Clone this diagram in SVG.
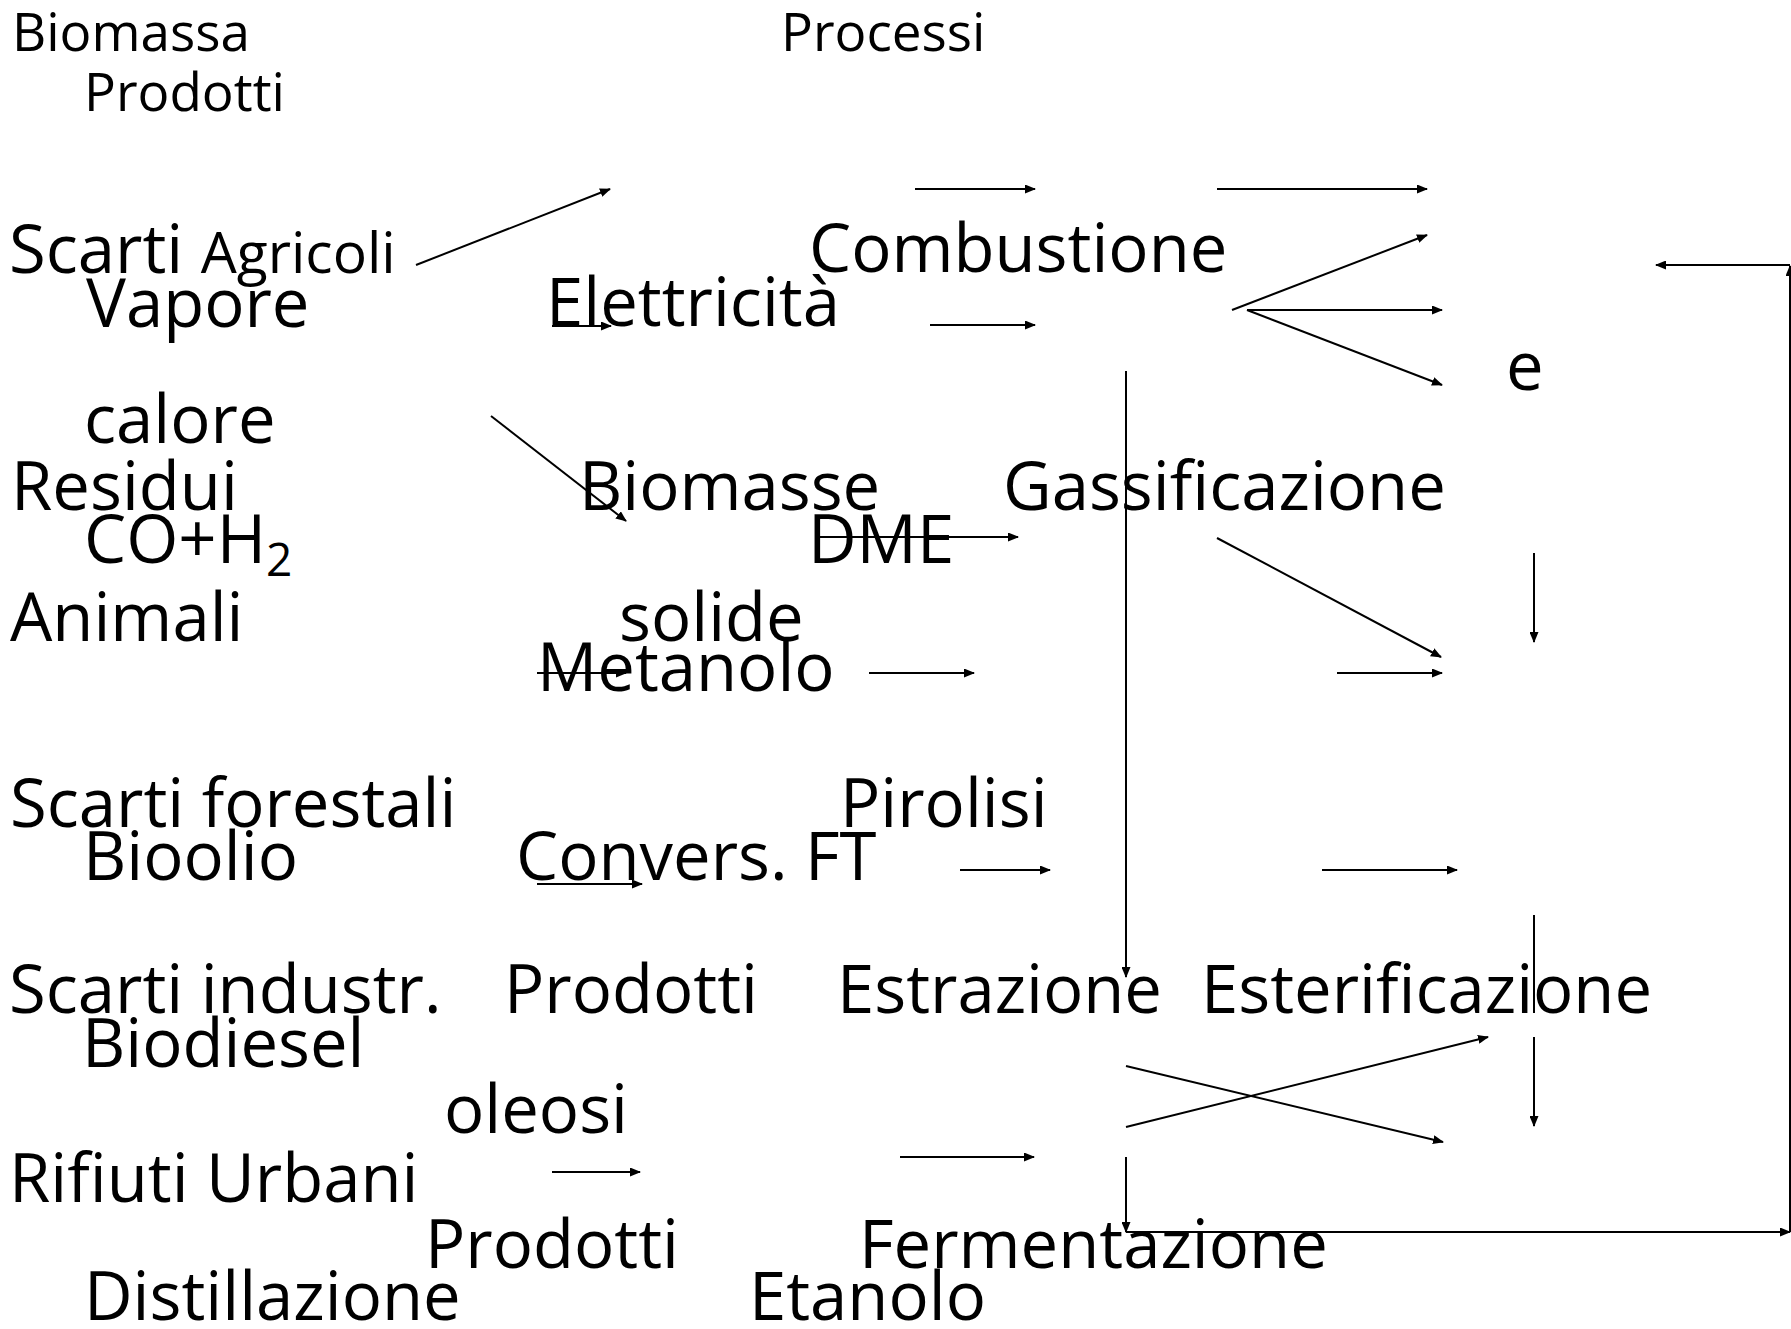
<svg xmlns="http://www.w3.org/2000/svg" width="1791" height="1329" viewBox="0 0 1791 1329">
<style>
text{font-family:"Open Sans","Liberation Sans",sans-serif;fill:#000}
.b{font-size:67px}
.s{font-size:53px}
.a{font-size:57px}
.c line,.c path{stroke:#000;stroke-width:2;fill:none}
.m{marker-end:url(#ah)}
</style>
<defs>
<marker id="ah" markerUnits="userSpaceOnUse" markerWidth="11" markerHeight="9" refX="10" refY="4.5" orient="auto">
<path d="M0,0 L11,4.5 L0,9 z" fill="#000"/>
</marker>
</defs>
<rect width="1791" height="1329" fill="#fff"/>
<g id="headers">
<text class="s" x="12" y="51">Biomassa</text>
<text class="s" x="781" y="51">Processi</text>
<text class="s" x="84" y="111">Prodotti</text>
</g>
<g id="biomass">
<text class="b" x="9" y="273">Scarti <tspan class="a">Agricoli</tspan></text>
<text class="b" x="11" y="510">Residui</text>
<text class="b" x="10" y="641">Animali</text>
<text class="b" x="10" y="827">Scarti forestali</text>
<text class="b" x="9" y="1013">Scarti industr.</text>
<text class="b" x="9" y="1202">Rifiuti Urbani</text>
</g>
<g id="products">
<text class="b" x="86" y="327">Vapore</text>
<text class="b" x="84" y="443">calore</text>
<text class="b" x="84" y="563">CO+H<tspan font-size="46" dy="13">2</tspan></text>
<text class="b" x="83" y="880">Bioolio</text>
<text class="b" x="82" y="1067">Biodiesel</text>
<text class="b" x="84" y="1320">Distillazione</text>
</g>
<g id="processes">
<text class="b" x="546" y="326">Elettricità</text>
<text class="b" x="809" y="272">Combustione</text>
<text class="b" x="1506" y="390">e</text>
<text class="b" x="579" y="510">Biomasse</text>
<text class="b" x="1003" y="510">Gassificazione</text>
<text class="b" x="808" y="563">DME</text>
<text class="b" x="619" y="641">solide</text>
<text class="b" x="537" y="691">Metanolo</text>
<text class="b" x="840" y="827">Pirolisi</text>
<text class="b" x="516" y="880">Convers. FT</text>
<text class="b" x="504" y="1013">Prodotti</text>
<text class="b" x="837" y="1013">Estrazione</text>
<text class="b" x="1201" y="1013">Esterificazione</text>
<text class="b" x="444" y="1133">oleosi</text>
<text class="b" x="425" y="1268">Prodotti</text>
<text class="b" x="859" y="1268">Fermentazione</text>
<text class="b" x="749" y="1320">Etanolo</text>
</g>
<g id="connectors" class="c">
<line class="m" x1="416" y1="265" x2="610" y2="189"/>
<line class="m" x1="915" y1="189" x2="1035" y2="189"/>
<line class="m" x1="1217" y1="189" x2="1427" y2="189"/>
<line class="m" x1="1232" y1="310" x2="1427" y2="235"/>
<line class="m" x1="1247" y1="310" x2="1442" y2="310"/>
<line class="m" x1="1247" y1="310" x2="1442" y2="385"/>
<line class="m" x1="552" y1="326" x2="611" y2="326"/>
<line class="m" x1="930" y1="325" x2="1035" y2="325"/>
<line class="m" x1="1790" y1="265" x2="1656" y2="265"/>
<line class="m" x1="1790" y1="1232" x2="1790" y2="266"/>
<line class="m" x1="1126" y1="371" x2="1126" y2="977"/>
<line class="m" x1="491" y1="416" x2="626" y2="521"/>
<line class="m" x1="815" y1="537" x2="1018" y2="537"/>
<line class="m" x1="1217" y1="538" x2="1441" y2="657"/>
<line class="m" x1="1534" y1="553" x2="1534" y2="642"/>
<line class="m" x1="537" y1="673" x2="626" y2="673"/>
<line class="m" x1="869" y1="673" x2="974" y2="673"/>
<line class="m" x1="1337" y1="673" x2="1442" y2="673"/>
<line class="m" x1="537" y1="884" x2="642" y2="884"/>
<line class="m" x1="960" y1="870" x2="1050" y2="870"/>
<line class="m" x1="1322" y1="870" x2="1457" y2="870"/>
<line x1="1534" y1="915" x2="1534" y2="1013"/>
<line class="m" x1="1534" y1="1037" x2="1534" y2="1126"/>
<line class="m" x1="1126" y1="1066" x2="1443" y2="1142"/>
<line class="m" x1="1126" y1="1127" x2="1488" y2="1037"/>
<line class="m" x1="552" y1="1172" x2="640" y2="1172"/>
<line class="m" x1="900" y1="1157" x2="1034" y2="1157"/>
<line class="m" x1="1126" y1="1157" x2="1126" y2="1232"/>
<line class="m" x1="1126" y1="1232" x2="1790" y2="1232"/>
</g>
</svg>
